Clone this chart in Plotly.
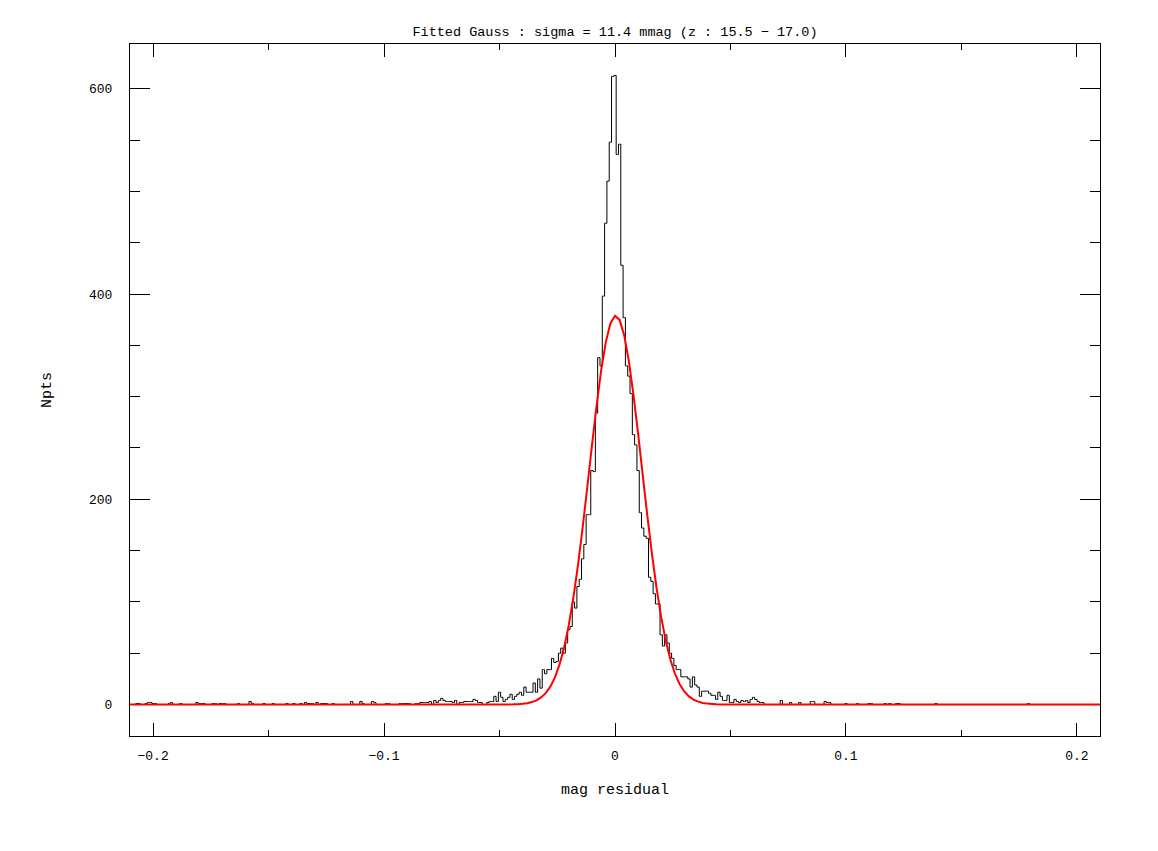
import numpy as np
import plotly.graph_objects as go

# histogram of mag residuals, bin width 1 mmag, bins centred on k * 0.001
BIN_WIDTH = 0.001
BIN_MIN, BIN_MAX = -210, 210

# dense part of the histogram, bins -84 .. 64
core_first_bin = -84
core_counts = [
    2, 2, 2, 2, 3, 0, 4, 2, 4, 6, 4, 3, 3, 3, 2, 4, 0, 2, 2, 3, 3, 3, 3, 5,
    4, 2, 2, 0, 0, 2, 3, 3, 8, 3, 12, 7, 3, 5, 7, 10, 5, 8, 10, 12,
    9, 17, 12, 12, 12, 21, 12, 25, 16, 34, 30, 34, 34, 45, 41, 42, 50, 55, 50, 60,
    73, 76, 100, 94, 115, 122, 142, 156, 185, 185, 228, 227, 284, 338, 330, 398, 469, 510, 548, 612,
    613, 536, 546, 428, 377, 330, 320, 303, 263, 253, 228, 187, 172, 164, 162, 124, 120, 108, 98, 98,
    68, 57, 68, 60, 50, 45, 38, 34, 34, 27, 27, 27, 25, 17, 27, 19, 17, 8, 13, 13,
    13, 11, 9, 9, 5, 12, 8, 4, 4, 9, 2, 2, 5, 3, 2, 4, 3, 4, 2, 5, 7, 5, 3, 2, 2,
]

# sparse outer tails (all other bins are empty)
tail_bins = [
    -207, -206, -203, -202, -201, -200, -199, -193, -192, -188, -181, -180, -179, -178,
    -174, -173, -171, -170, -169, -163, -158, -157, -152, -148, -142, -139, -136,
    -134, -133, -132, -131, -129, -127, -126, -125, -122, -114, -110, -109, -105, -104,
    -99, -98, -93, -92, -91, -90, -89, -86, -85,
    72, 76, 80, 85, 86, 91, 92, 93, 100, 105, 110, 111, 117, 119, 122, 123, 139, 179,
]
tail_counts = [
    1, 1, 1, 2, 2, 1, 1, 1, 2, 1, 2, 1, 1, 1,
    1, 1, 1, 1, 1, 1, 3, 1, 1, 1, 1, 1, 1,
    2, 1, 1, 1, 2, 1, 1, 1, 1, 3, 3, 1, 3, 2,
    1, 1, 1, 1, 1, 1, 1, 1, 1,
    4, 2, 2, 3, 3, 3, 2, 2, 1, 1, 1, 1, 1, 1, 1, 1, 1, 1,
]

# fitted gaussian
gauss_x = [
    -0.21, -0.048, -0.046, -0.044, -0.042, -0.040, -0.038, -0.036, -0.034, -0.032,
    -0.030, -0.028, -0.026, -0.024, -0.022, -0.020, -0.018, -0.016, -0.014, -0.012,
    -0.010, -0.008, -0.006, -0.004, -0.002, 0.000, 0.002, 0.004, 0.006, 0.008,
    0.010, 0.012, 0.014, 0.016, 0.018, 0.020, 0.022, 0.024, 0.026, 0.028,
    0.030, 0.032, 0.034, 0.036, 0.038, 0.040, 0.042, 0.044, 0.046, 0.048, 0.21,
]
gauss_y = [
    0.0, 0.0, 0.1, 0.2, 0.4, 0.7, 1.3, 2.4, 4.1, 6.9,
    11.1, 17.4, 26.5, 39.1, 55.9, 77.6, 104.5, 136.4, 172.6, 211.8,
    252.0, 290.8, 325.3, 352.9, 371.3, 378.9, 374.8, 359.6, 334.5, 301.7,
    263.9, 223.8, 184.1, 146.8, 113.5, 85.2, 62.0, 43.7, 29.9, 19.8,
    12.7, 7.9, 4.8, 2.8, 1.6, 0.9, 0.5, 0.2, 0.1, 0.0, 0.0,
]

TITLE = "Fitted Gauss : sigma = 11.4 mmag (z : 15.5 \u2212 17.0)"
FONT = "Liberation Mono"

bins = np.arange(BIN_MIN, BIN_MAX + 1)
counts = np.zeros(len(bins))
start = core_first_bin - BIN_MIN
counts[start:start + len(core_counts)] = core_counts
for b, c in zip(tail_bins, tail_counts):
    counts[b - BIN_MIN] = c
centers = bins * BIN_WIDTH

fig = go.Figure()
fig.add_trace(
    go.Scatter(
        x=centers,
        y=counts,
        mode="lines",
        line=dict(color="black", width=1, shape="hvh"),
        name="histogram",
    )
)
fig.add_trace(
    go.Scatter(
        x=gauss_x,
        y=gauss_y,
        mode="lines",
        line=dict(color="#ff0000", width=2, simplify=False),
        name="gauss",
    )
)

axis_common = dict(
    showgrid=False,
    zeroline=False,
    showline=True,
    linecolor="black",
    linewidth=1,
    mirror="allticks",
    ticks="inside",
    tickcolor="black",
    tickwidth=1,
    layer="below traces",
    tickfont=dict(family=FONT, size=13, color="black"),
)

# the page body adds an 8px offset, so the margins are trimmed by that much
fig.update_layout(
    width=1158,
    height=851,
    margin=dict(l=122, r=66, t=36, b=123),
    paper_bgcolor="white",
    plot_bgcolor="white",
    showlegend=False,
    font=dict(family=FONT, color="black"),
    title=dict(
        text=TITLE,
        x=0.5,
        xref="paper",
        xanchor="center",
        y=1 - 23 / 851,
        yanchor="middle",
        font=dict(family=FONT, size=13.5, color="black"),
    ),
)
fig.update_xaxes(
    **axis_common,
    range=[-0.21, 0.21],
    tickvals=[-0.2, -0.1, 0, 0.1, 0.2],
    ticklen=13,
    minor=dict(ticks="inside", dtick=0.05, tick0=0, ticklen=6, tickcolor="black"),
    ticklabelstandoff=7,
    title=dict(text="mag residual", standoff=20, font=dict(family=FONT, size=15)),
)
fig.update_yaxes(
    **axis_common,
    range=[-30.65, 643.65],
    tickvals=[0, 200, 400, 600],
    ticklen=20,
    minor=dict(ticks="inside", dtick=50, tick0=0, ticklen=10, tickcolor="black"),
    ticklabelstandoff=14,
    title=dict(text="Npts", standoff=33, font=dict(family=FONT, size=15)),
)

fig.write_html("out.html")
